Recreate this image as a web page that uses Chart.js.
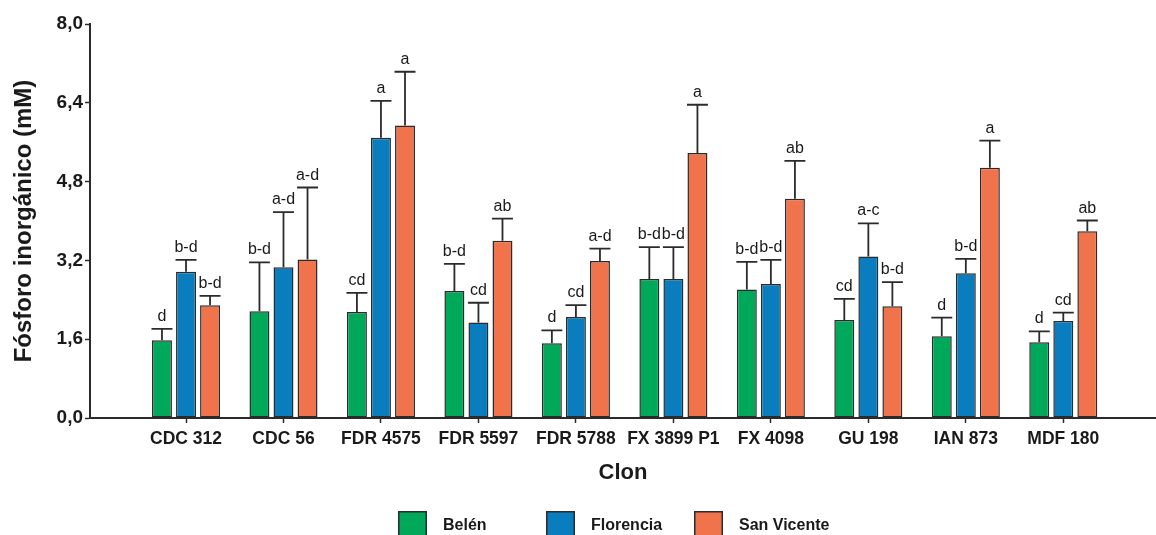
<!DOCTYPE html>
<html lang="es">
<head>
<meta charset="utf-8">
<title>Fósforo inorgánico por clon</title>
<script src="https://cdn.jsdelivr.net/npm/chart.js@4.4.1/dist/chart.umd.min.js"></script>
<style>
  html, body { margin: 0; padding: 0; background: #ffffff; }
  #wrap { width: 1156px; height: 535px; position: relative; }
</style>
</head>
<body>
<div id="wrap"><canvas id="chart" width="1156" height="535"></canvas></div>
<script>
// Clones on the x axis
const categories = ['CDC 312', 'CDC 56', 'FDR 4575', 'FDR 5597', 'FDR 5788',
                    'FX 3899 P1', 'FX 4098', 'GU 198', 'IAN 873', 'MDF 180'];

// Localities (series)
const seriesNames = ['Belén', 'Florencia', 'San Vicente'];

// Mean inorganic phosphorus (mM) per clone
const belen      = [1.58, 2.17, 2.15, 2.58, 1.52, 2.82, 2.61, 1.99, 1.66, 1.54];
const florencia  = [2.97, 3.06, 5.69, 1.94, 2.05, 2.82, 2.72, 3.28, 2.94, 1.97];
const sanVicente = [2.29, 3.22, 5.94, 3.60, 3.19, 5.38, 4.45, 2.27, 5.08, 3.79];

// Upper error (standard error) per bar
const belenErr      = [0.23, 0.99, 0.39, 0.55, 0.26, 0.65, 0.56, 0.43, 0.38, 0.22];
const florenciaErr  = [0.24, 1.12, 0.75, 0.40, 0.24, 0.65, 0.49, 0.67, 0.29, 0.17];
const sanVicenteErr = [0.19, 1.46, 1.09, 0.45, 0.25, 0.98, 0.77, 0.49, 0.55, 0.22];

// Significance letters above each bar
const belenLetters      = ['d', 'b-d', 'cd', 'b-d', 'd', 'b-d', 'b-d', 'cd', 'd', 'd'];
const florenciaLetters  = ['b-d', 'a-d', 'a', 'cd', 'cd', 'b-d', 'b-d', 'a-c', 'b-d', 'cd'];
const sanVicenteLetters = ['b-d', 'a-d', 'a', 'ab', 'a-d', 'a', 'ab', 'b-d', 'a', 'ab'];

// Y axis ticks
const yTicks = [0, 1.6, 3.2, 4.8, 6.4, 8.0];

const colors = ['#00a85a', '#0a7dbf', '#f0734c'];
const INK = '#1a1a1a';
const FONT = "'Liberation Sans', Arial, Helvetica, sans-serif";

const seriesValues = [belen, florencia, sanVicente];
const seriesErrors = [belenErr, florenciaErr, sanVicenteErr];
const seriesLetters = [belenLetters, florenciaLetters, sanVicenteLetters];

const datasets = seriesNames.map((name, s) => ({
  label: name,
  data: seriesValues[s].map((v, i) => ({ x: i, y: v })),
  errors: seriesErrors[s],
  letters: seriesLetters[s],
  backgroundColor: colors[s],
  borderColor: '#2b2b2b',
  borderWidth: 1.5,
  borderSkipped: false,
  categoryPercentage: 0.74,
  barPercentage: 0.83
}));

// Upward error bars with caps, and letters above the caps
const errorBarPlugin = {
  id: 'errorBars',
  afterDatasetsDraw(chart) {
    const ctx = chart.ctx;
    const yScale = chart.scales.y;
    ctx.save();
    chart.data.datasets.forEach((ds, di) => {
      const meta = chart.getDatasetMeta(di);
      meta.data.forEach((bar, i) => {
        const v = ds.data[i].y;
        const top = yScale.getPixelForValue(v + ds.errors[i]);
        const half = bar.width / 2 + 0.5;
        ctx.strokeStyle = '#2b2b2b';
        ctx.lineWidth = 1.8;
        ctx.beginPath();
        ctx.moveTo(bar.x, bar.y);
        ctx.lineTo(bar.x, top);
        ctx.moveTo(bar.x - half, top);
        ctx.lineTo(bar.x + half, top);
        ctx.stroke();
        ctx.fillStyle = INK;
        ctx.font = '16px ' + FONT;
        ctx.textAlign = 'center';
        ctx.textBaseline = 'alphabetic';
        ctx.fillText(ds.letters[i], bar.x, top - 8);
      });
    });
    ctx.restore();
  }
};

// Legend row below the axis title
const legendPlugin = {
  id: 'legendRow',
  afterDraw(chart) {
    const ctx = chart.ctx;
    const startX = 398, step = 148, boxY = 511, boxW = 29, boxH = 30;
    ctx.save();
    chart.data.datasets.forEach((ds, i) => {
      const x = startX + step * i;
      ctx.fillStyle = ds.backgroundColor;
      ctx.fillRect(x, boxY, boxW, boxH);
      ctx.strokeStyle = '#2b2b2b';
      ctx.lineWidth = 1.5;
      ctx.strokeRect(x + 0.75, boxY + 0.75, boxW - 1.5, boxH - 1.5);
      ctx.fillStyle = INK;
      ctx.font = 'bold 16px ' + FONT;
      ctx.textAlign = 'left';
      ctx.textBaseline = 'middle';
      ctx.fillText(ds.label, x + 45, 526);
    });
    ctx.restore();
  }
};

new Chart(document.getElementById('chart'), {
  type: 'bar',
  data: { datasets },
  plugins: [errorBarPlugin, legendPlugin],
  options: {
    responsive: false,
    animation: false,
    layout: { padding: { top: 24, right: 0, bottom: 0, left: 0 } },
    plugins: {
      legend: { display: false },
      tooltip: { enabled: false }
    },
    scales: {
      x: {
        type: 'linear',
        offset: false,
        min: -0.985,
        max: 9.951,
        afterBuildTicks(scale) {
          scale.ticks = categories.map((c, i) => ({ value: i }));
        },
        afterFit(scale) { scale.height = 117; },
        border: { display: true, color: '#2b2b2b', width: 2 },
        grid: { display: true, offset: false, drawOnChartArea: false, drawTicks: true, tickLength: 5, color: '#2b2b2b', tickWidth: 1.5 },
        ticks: {
          autoSkip: false,
          maxRotation: 0,
          padding: 6,
          color: INK,
          font: { family: FONT, size: 17.5, weight: 'bold' },
          callback: (v) => categories[v]
        },
        title: {
          display: true,
          text: 'Clon',
          color: INK,
          font: { family: FONT, size: 22, weight: 'bold' },
          padding: { top: 0, bottom: 49 }
        }
      },
      y: {
        min: 0,
        max: 8,
        afterBuildTicks(scale) {
          scale.ticks = yTicks.map(v => ({ value: v }));
        },
        afterFit(scale) { scale.width = 90; },
        border: { display: true, color: '#2b2b2b', width: 2 },
        grid: { display: true, drawOnChartArea: false, drawTicks: true, tickLength: 5, color: '#2b2b2b', tickWidth: 1.5 },
        ticks: {
          padding: 2,
          color: INK,
          font: { family: FONT, size: 19, weight: 'bold' },
          callback: (v) => v.toFixed(1).replace('.', ',')
        },
        title: {
          display: true,
          text: 'Fósforo inorgánico (mM)',
          color: INK,
          font: { family: FONT, size: 24, weight: 'bold' },
          padding: { top: 10, bottom: 0 }
        }
      }
    }
  }
});
</script>
</body>
</html>
